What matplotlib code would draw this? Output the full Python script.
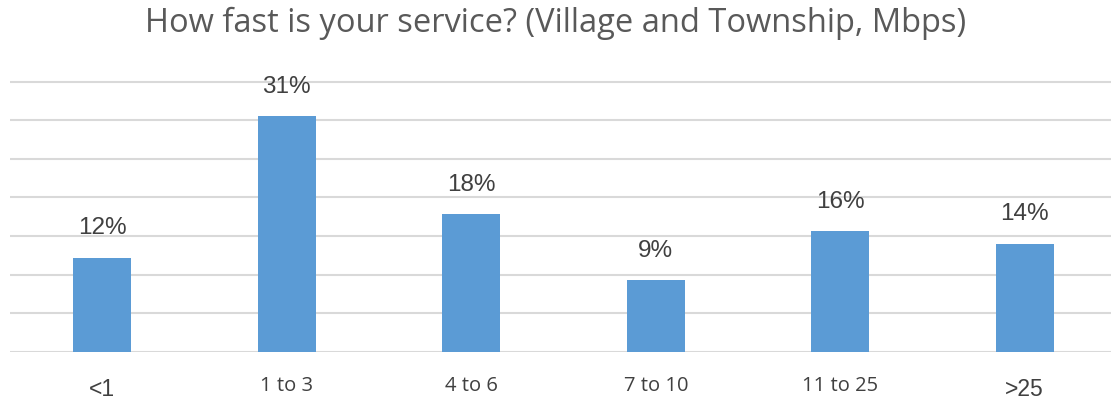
import matplotlib
matplotlib.use("Agg")
import matplotlib.pyplot as plt

plt.rcParams['font.family'] = ['Open Sans', 'DejaVu Sans']

# data
categories = ['<1', '1 to 3', '4 to 6', '7 to 10', '11 to 25', '>25']
shares = [12.2, 30.5, 17.8, 9.3, 15.6, 14.0]
labels = ['12%', '31%', '18%', '9%', '16%', '14%']

bar_color = '#5b9bd5'
grid_color = '#d9d9d9'
text_color = '#404040'

fig = plt.figure(figsize=(11.11, 4.02), dpi=100)
ax = fig.add_axes([10 / 1111, 49.3 / 402, 1107 / 1111, 270 / 402 * 36 / 35])

x = range(len(categories))
ax.bar(x, shares, width=0.313, color=bar_color, zorder=3)

ax.set_xlim(-0.5, len(categories) - 0.5)
ax.set_ylim(0, 36)
ax.set_yticks(range(0, 36, 5))
ax.yaxis.grid(True, color=grid_color, linewidth=1.5, zorder=0)
ax.tick_params(axis='y', left=False, labelleft=False)
ax.tick_params(axis='x', bottom=False, pad=13)
for sp in ax.spines.values():
    sp.set_visible(False)

ax.set_xticks(list(x))
ax.set_xticklabels(categories, fontsize=14.5, color=text_color)
for t in ax.get_xticklabels():
    if t.get_text() in ('<1', '>25'):
        t.set_family('Liberation Sans')
        t.set_fontsize(16.5)
        t.set_y(-0.008)

for xi, v, lab in zip(x, shares, labels):
    ax.annotate(lab, (xi, v), xytext=(0, 14), textcoords='offset points',
                ha='center', va='bottom', fontsize=17.5, color=text_color,
                family='Liberation Sans')

fig.text(0.5, 0.943, 'How fast is your service? (Village and Township, Mbps)',
         ha='center', va='center', fontsize=23.5, color='#595959')

fig.savefig('out.png', dpi=100)
